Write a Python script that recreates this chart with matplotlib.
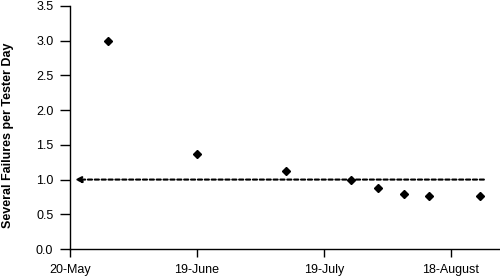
import matplotlib
matplotlib.use("Agg")
import matplotlib.pyplot as plt

plt.rcParams['font.family'] = ['Liberation Sans', 'DejaVu Sans']

# Days since 20-May
days = [9, 30, 51, 66.5, 72.7, 78.8, 84.9, 96.8]
failures = [3.0, 1.37, 1.13, 0.99, 0.88, 0.79, 0.76, 0.76]
tick_days = [0, 30, 60, 90]
tick_labels = ["20-May", "19-June", "19-July", "18-August"]
y_ticks = [0.0, 0.5, 1.0, 1.5, 2.0, 2.5, 3.0, 3.5]
target = 1.0
target_span = [1.2, 97.8]

fig = plt.figure(figsize=(5, 2.8), dpi=100)
ax = fig.add_axes([70/500, 1 - 249/280, 430/500, 243/280])

ax.plot(days, failures, linestyle='none', marker='D', markersize=4.3,
        color='black')

ax.annotate('', xy=(target_span[0], target), xytext=(target_span[1], target),
            arrowprops=dict(arrowstyle='-|>', color='black', lw=1.5,
                            linestyle=(0, (2.0, 1.3)), mutation_scale=9,
                            shrinkA=0, shrinkB=0))

ax.set_xlim(0, 101.6)
ax.set_ylim(0, 3.5)
ax.set_xticks(tick_days)
ax.set_xticklabels(tick_labels)
ax.set_yticks(y_ticks)
ax.set_yticklabels([f"{v:.1f}" for v in y_ticks])
for s in ['top', 'right']:
    ax.spines[s].set_visible(False)
for s in ['left', 'bottom']:
    ax.spines[s].set_linewidth(1.0)
ax.tick_params(axis='y', length=7, width=1.0, labelsize=9, pad=5)
ax.tick_params(axis='x', length=6, width=1.0, labelsize=9, pad=5)
ax.set_ylabel("Several Failures per Tester Day", fontsize=9, fontweight='bold')
ax.yaxis.set_label_coords(-0.131, 0.469)

fig.savefig("out.png", dpi=100)
